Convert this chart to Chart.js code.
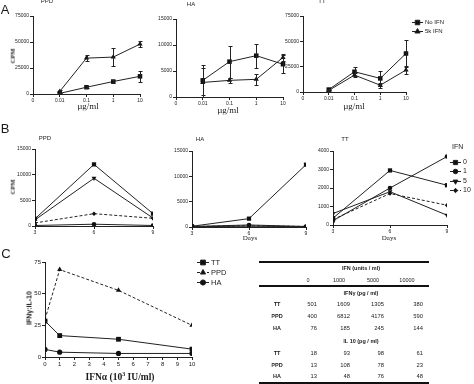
<!DOCTYPE html>
<html>
<head>
<meta charset="utf-8">
<script src="https://cdn.jsdelivr.net/npm/chart.js@4.4.1/dist/chart.umd.min.js"></script>
<style>
html, body { margin: 0; padding: 0; background: #fff; }
body { width: 474px; height: 384px; position: relative; overflow: hidden; font-family: 'Liberation Sans', Arial, sans-serif; color: #1a1a1a; }
canvas { position: absolute; }
.t, .l, .r { position: absolute; white-space: nowrap; line-height: 1; will-change: transform; }
.t { transform: translate(-50%, -50%); }
.l { transform: translate(0, -50%); }
.r { transform: translate(-100%, -50%); }
.serif { font-family: 'Liberation Serif', 'Times New Roman', serif; }
.rot { transform: translate(-50%, -50%) rotate(-90deg); }
.rule { position: absolute; height: 2px; background: #111; }
</style>
</head>
<body>

<div class="t" style="left:5px;top:9px;font-size:13px;">A</div>
<div class="t" style="left:5px;top:128px;font-size:13px;">B</div>
<div class="t" style="left:6px;top:253px;font-size:13px;">C</div>

<div class="t" style="left:47px;top:1px;font-size:6px;">PPD</div>
<div class="t" style="left:191px;top:4px;font-size:6px;">HA</div>
<div class="t" style="left:322px;top:1px;font-size:6px;">TT</div>
<div class="t serif" style="left:88px;top:106px;font-size:9px;">&micro;g/ml</div>
<div class="t serif" style="left:228px;top:110px;font-size:9px;">&micro;g/ml</div>
<div class="t serif" style="left:354px;top:106px;font-size:9px;">&micro;g/ml</div>
<div class="t serif rot" style="left:13px;top:56px;font-size:6.5px;font-weight:bold;">CPM</div>

<div class="t" style="left:45px;top:138px;font-size:6px;">PPD</div>
<div class="t" style="left:200px;top:139px;font-size:6px;">HA</div>
<div class="t" style="left:345px;top:139px;font-size:6px;">TT</div>
<div class="t serif rot" style="left:13px;top:187px;font-size:6.5px;font-weight:bold;">CPM</div>
<div class="t serif" style="left:250px;top:238px;font-size:7px;">Days</div>
<div class="t serif" style="left:389px;top:238px;font-size:7px;">Days</div>

<div class="t rot" style="left:29px;top:308px;font-size:7px;font-weight:bold;">IFN&gamma;:IL-10</div>
<div class="t serif" style="left:120px;top:378px;font-size:9.5px;font-weight:bold;">IFN&alpha; (10<sup style="font-size:6px;line-height:0;">3</sup> IU/ml)</div>

<div id="table"></div>

<script>
// ---- panel A: proliferation vs antigen dose ----
const doseLabels = ['0', '0.01', '0.1', '1', '10'];
const ppdNoIfn = [null, 600, 6500, 12000, 17000];
const ppdNoIfnErr = [null, 300, 800, 1000, 5000];
const ppdIfn5k = [null, 2500, 34500, 35500, 48000];
const ppdIfn5kErr = [null, 1500, 3000, 9000, 3000];
const haNoIfn = [null, 3200, 6800, 7950, 6300];
const haNoIfnErr = [null, 2900, 3100, 2300, 1700];
const haIfn5k = [null, 2800, 3200, 3400, 7600];
const haIfn5kErr = [null, 2800, 500, 1000, 700];
const ttNoIfn = [null, 2400, 20000, 13400, 38000];
const ttNoIfnErr = [null, 800, 4500, 7000, 13000];
const ttIfn5k = [null, 1500, 16700, 6700, 21700];
const ttIfn5kErr = [null, 500, 2000, 2500, 4000];

// ---- panel B: kinetics by IFN dose ----
const days = [3, 6, 9];
const ifnLevels = ['0', '1', '5', '10'];
const ppdDay = [[1400, 12000, 2400], [100, 350, 100], [1200, 9300, 1550], [600, 2400, 1500]];
const haDay = [[150, 1650, 12300], [100, 400, 100], [60, 150, 60], [100, 250, 100]];
const ttDay = [[370, 2950, 2150], [230, 2000, 3700], [620, 1800, 530], [300, 1700, 1070]];

// ---- panel C: IFN-gamma : IL-10 ratio ----
const ifnAlphaDose = [0, 1, 5, 10];
const ratioTT = [28.4, 16.9, 14, 6.2];
const ratioPPD = [29.7, 69, 52.6, 25];
const ratioHA = [6, 3.8, 2.8, 2.8];

// ---- table ----
const tableCols = ['0', '1000', '5000', '10000'];
const tableRows = ['TT', 'PPD', 'HA'];
const ifnGammaPg = [[501, 1609, 1305, 380], [400, 6812, 4176, 590], [76, 185, 245, 144]];
const il10Pg = [[18, 93, 98, 61], [13, 108, 78, 23], [13, 48, 76, 48]];

Chart.defaults.font.family = "'Liberation Sans', Arial, sans-serif";
Chart.defaults.color = '#222';

const INK = '#222';

const errorBars = {
    id: 'errorBars',
    afterDatasetsDraw(chart) {
        const ctx = chart.ctx;
        const ys = chart.scales.y;
        chart.data.datasets.forEach((ds, di) => {
            if (!ds.errors) return;
            const meta = chart.getDatasetMeta(di);
            ctx.save();
            ctx.strokeStyle = INK;
            ctx.lineWidth = 1;
            ds.errors.forEach((e, i) => {
                const v = ds.data[i];
                if (e == null || v == null) return;
                const x = Math.round(meta.data[i].x) + 0.5;
                const y1 = Math.round(ys.getPixelForValue(v + e)) + 0.5;
                const y2 = Math.round(ys.getPixelForValue(Math.max(0, v - e))) + 0.5;
                ctx.beginPath();
                ctx.moveTo(x, y1); ctx.lineTo(x, y2);
                ctx.moveTo(x - 2, y1); ctx.lineTo(x + 2, y1);
                ctx.moveTo(x - 2, y2); ctx.lineTo(x + 2, y2);
                ctx.stroke();
            });
            ctx.restore();
        });
    }
};

// legend drawn beside the plot from the dataset styles; x/y are page coords
const sideLegend = {
    id: 'sideLegend',
    afterDraw(chart, args, opts) {
        if (!opts || opts.x == null) return;
        const ctx = chart.ctx;
        const ox = parseFloat(chart.canvas.style.left);
        const oy = parseFloat(chart.canvas.style.top);
        ctx.save();
        ctx.font = opts.size + "px 'Liberation Sans', Arial, sans-serif";
        ctx.textBaseline = 'middle';
        ctx.fillStyle = INK;
        if (opts.title) {
            ctx.fillText(opts.title, opts.titleX - ox, opts.titleY - oy);
        }
        chart.data.datasets.forEach((ds, i) => {
            const x = opts.x - ox;
            const y = Math.round(opts.y + i * opts.dy - oy) + 0.5;
            ctx.strokeStyle = INK;
            ctx.lineWidth = 1;
            ctx.setLineDash(ds.borderDash || []);
            ctx.beginPath();
            ctx.moveTo(x, y);
            ctx.lineTo(x + opts.lw, y);
            ctx.stroke();
            ctx.setLineDash([]);
            ctx.fillStyle = '#111';
            if (Chart.helpers && Chart.helpers.drawPoint) {
                Chart.helpers.drawPoint(ctx, {
                    pointStyle: ds.pointStyle, radius: ds.pointRadius,
                    rotation: ds.pointRotation || 0, borderWidth: 1
                }, x + opts.lw / 2, y);
            } else {
                ctx.fillRect(x + opts.lw / 2 - 2, y - 2, 4, 4);
            }
            ctx.fillStyle = INK;
            ctx.fillText(ds.label, x + opts.lw + 2, y);
        });
        ctx.restore();
    }
};

function axis(extra) {
    return Object.assign({
        border: { display: true, color: INK, width: 1 },
        grid: { display: true, drawOnChartArea: false, drawTicks: true, tickLength: 3, color: INK, offset: false }
    }, extra);
}

function tickOpts(size, step, category) {
    const t = { color: INK, font: { size: size }, padding: 1, maxRotation: 0, autoSkip: false };
    if (step) t.stepSize = step;
    t.callback = category ? function (v) { return this.getLabelForValue(v); } : v => String(v);
    return t;
}

// box = wanted plot area in page pixels
function addChart(box, data, xScale, yScale, legendOpts, plugins) {
    const yw = 40, xh = 14;
    const pt = 10, pr = box.pr || 12;
    const left = box.l - yw, top = box.t - pt;
    const w = box.r - left + pr, h = box.b - top + xh;
    const c = document.createElement('canvas');
    c.width = w; c.height = h;
    c.style.left = left + 'px'; c.style.top = top + 'px';
    c.style.width = w + 'px'; c.style.height = h + 'px';
    document.body.appendChild(c);
    xScale.afterFit = s => { s.height = xh; };
    yScale.afterFit = s => { s.width = yw; };
    return new Chart(c, {
        type: 'line',
        data: data,
        options: {
            responsive: false,
            animation: false,
            devicePixelRatio: 1,
            layout: { padding: { left: 0, top: pt, right: pr, bottom: 0 } },
            elements: { line: { borderWidth: 1, tension: 0 } },
            plugins: { legend: { display: false }, tooltip: { enabled: false }, sideLegend: legendOpts || {} },
            scales: { x: xScale, y: yScale }
        },
        plugins: plugins
    });
}

function doseSet(label, vals, errs, style) {
    return {
        label: label, data: vals, errors: errs,
        borderColor: INK, backgroundColor: '#111',
        pointBackgroundColor: '#111', pointBorderColor: '#111', pointBorderWidth: 0,
        pointStyle: style, pointRadius: style === 'rect' ? 3.2 : 3, spanGaps: false
    };
}

function doseChart(box, noIfn, noIfnErr, ifn5k, ifn5kErr, yMax, yStep, legendOpts) {
    addChart(box,
        { labels: doseLabels, datasets: [doseSet('No IFN', noIfn, noIfnErr, 'rect'), doseSet('5k IFN', ifn5k, ifn5kErr, 'triangle')] },
        axis({ type: 'category', offset: false, ticks: tickOpts(5, null, true) }),
        axis({ type: 'linear', min: 0, max: yMax, ticks: tickOpts(5, yStep) }),
        legendOpts, [errorBars, sideLegend]);
}

doseChart({ l: 33, t: 16, r: 140, b: 94 }, ppdNoIfn, ppdNoIfnErr, ppdIfn5k, ppdIfn5kErr, 75000, 25000);
doseChart({ l: 176, t: 19, r: 283, b: 97 }, haNoIfn, haNoIfnErr, haIfn5k, haIfn5kErr, 15000, 5000);
doseChart({ l: 303, t: 16, r: 406, b: 92, pr: 68 }, ttNoIfn, ttNoIfnErr, ttIfn5k, ttIfn5kErr, 75000, 25000,
    { x: 412, y: 22, dy: 9, lw: 11, size: 6 });

const dayStyles = [
    { pointStyle: 'rect', pointRadius: 3, borderDash: [] },
    { pointStyle: 'circle', pointRadius: 2.3, borderDash: [] },
    { pointStyle: 'triangle', pointRadius: 2.8, pointRotation: 180, borderDash: [] },
    { pointStyle: 'rectRot', pointRadius: 2.2, borderDash: [3, 2] }
];

function dayChart(box, series, yMax, yStep, legendOpts) {
    const datasets = series.map((vals, k) => Object.assign({
        label: ifnLevels[k],
        data: days.map((d, i) => ({ x: d, y: vals[i] })),
        borderColor: INK, backgroundColor: '#111',
        pointBackgroundColor: '#111', pointBorderColor: '#111', pointBorderWidth: 0
    }, dayStyles[k]));
    addChart(box, { datasets: datasets },
        axis({ type: 'linear', min: 3, max: 9, ticks: tickOpts(5, 3) }),
        axis({ type: 'linear', min: 0, max: yMax, ticks: tickOpts(5, yStep) }),
        legendOpts, [sideLegend]);
}

dayChart({ l: 35, t: 149, r: 153, b: 226 }, ppdDay, 15000, 5000);
dayChart({ l: 192, t: 151, r: 306, b: 227 }, haDay, 15000, 5000);
dayChart({ l: 333, t: 151, r: 447, b: 225, pr: 27 }, ttDay, 4000, 1000,
    { x: 450, y: 162, dy: 9.3, lw: 11, size: 7, title: 'IFN', titleX: 452, titleY: 147 });

// panel C
const ratioSeries = [
    { label: 'TT', vals: ratioTT, pointStyle: 'rect', pointRadius: 3.4, borderDash: [] },
    { label: 'PPD', vals: ratioPPD, pointStyle: 'triangle', pointRadius: 3, borderDash: [3, 2] },
    { label: 'HA', vals: ratioHA, pointStyle: 'circle', pointRadius: 2.6, borderDash: [] }
];
addChart({ l: 45, t: 262, r: 192, b: 357, pr: 44 },
    {
        datasets: ratioSeries.map(s => ({
            label: s.label,
            data: ifnAlphaDose.map((d, i) => ({ x: d, y: s.vals[i] })),
            borderColor: INK, backgroundColor: '#111',
            pointBackgroundColor: '#111', pointBorderColor: '#111', pointBorderWidth: 0,
            pointStyle: s.pointStyle, pointRadius: s.pointRadius, borderDash: s.borderDash
        }))
    },
    axis({ type: 'linear', min: 0, max: 10, ticks: tickOpts(6, 1) }),
    axis({ type: 'linear', min: 0, max: 75, ticks: tickOpts(6, 25) }),
    { x: 197, y: 262, dy: 10, lw: 12, size: 7.5 }, [sideLegend]);

// table as positioned text
(function buildTable() {
    const t = document.getElementById('table');
    let html = '';
    const span = (cls, x, y, size, bold, text) =>
        `<div class="${cls}" style="left:${x}px;top:${y}px;font-size:${size}px;${bold ? 'font-weight:bold;' : ''}">${text}</div>`;
    html += `<div class="rule" style="left:259px;top:261px;width:170px;"></div>`;
    html += `<div class="rule" style="left:259px;top:284.5px;width:170px;"></div>`;
    html += `<div class="rule" style="left:259px;top:382px;width:170px;"></div>`;
    html += span('t', 361, 269, 5.5, true, 'IFN (units / ml)');
    const headX = [308, 339, 373, 407];
    const valRight = [317, 350, 384, 423];
    tableCols.forEach((c, i) => { html += span('t', headX[i], 281, 5.5, false, c); });
    const sections = [
        { title: 'IFN&gamma; (pg / ml)', y: 293.5, rows: ifnGammaPg, rowY: [305, 317, 329] },
        { title: 'IL 10 (pg / ml)', y: 342, rows: il10Pg, rowY: [353.5, 365.5, 377] }
    ];
    sections.forEach(s => {
        html += span('t', 361, s.y, 5.5, true, s.title);
        s.rows.forEach((vals, r) => {
            html += span('t', 277, s.rowY[r], 5.5, true, tableRows[r]);
            vals.forEach((v, i) => { html += span('r', valRight[i], s.rowY[r], 5.8, false, v); });
        });
    });
    t.innerHTML = html;
})();
</script>
</body>
</html>
